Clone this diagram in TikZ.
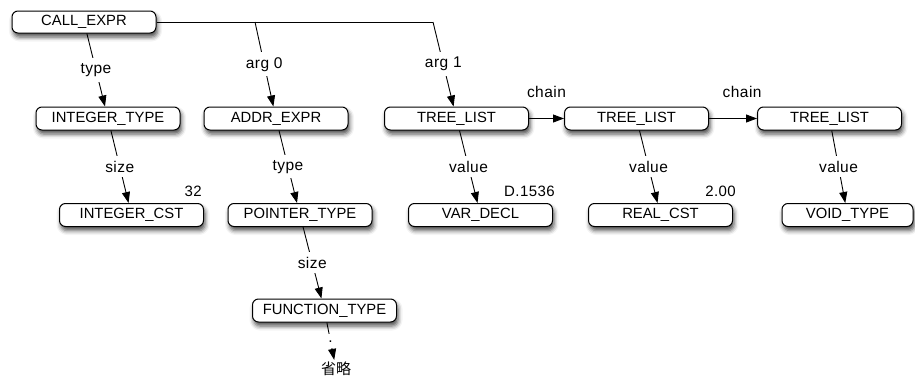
\documentclass[tikz,border=0pt]{standalone}
\usepackage{fontspec}
\setmainfont{Liberation Sans}
\newfontfamily\lblfont[LetterSpace=3]{Liberation Sans}
\newfontfamily\cjkfont{Noto Sans CJK JP}
\usetikzlibrary{arrows.meta,shadows.blur}
\begin{document}
\begin{tikzpicture}[x=1pt,y=-1pt,
  treenode/.style={draw, line width=1pt, rounded corners=6pt, fill=white,
    minimum width=144pt, minimum height=23pt, inner sep=0pt,
    font=\fontsize{14.8}{17}\selectfont,
    blur shadow={shadow xshift=1.5pt, shadow yshift=-4pt,
      shadow blur radius=4.5pt, shadow opacity=70}},
  edge/.style={line width=0.9pt, -{Triangle[length=11pt,width=8pt]}},
  lab/.style={fill=white, inner sep=5pt, font=\lblfont\fontsize{15.5}{18}\selectfont},
  chainlab/.style={inner sep=0pt, anchor=base, yshift=21pt,
    font=\lblfont\fontsize{15.5}{18}\selectfont},
  vallab/.style={inner sep=0pt, anchor=base east,
    font=\lblfont\fontsize{15}{18}\selectfont}]
\useasboundingbox (0,0) rectangle (915,380);

% tree nodes
\node[treenode, minimum height=22pt] (call) at (84,22) {CALL\_EXPR};
\node[treenode] (itype) at (108,118.5) {INTEGER\_TYPE};
\node[treenode] (addr)  at (276,118.5) {ADDR\_EXPR};
\node[treenode] (tl1)   at (456.5,118.5) {TREE\_LIST};
\node[treenode] (tl2)   at (636.5,118.5) {TREE\_LIST};
\node[treenode] (tl3)   at (829.5,118.5) {TREE\_LIST};
\node[treenode] (icst)  at (131.5,215) {INTEGER\_CST};
\node[treenode] (ptr)   at (300,215) {POINTER\_TYPE};
\node[treenode] (var)   at (480.5,215) {VAR\_DECL};
\node[treenode] (real)  at (660.5,215) {REAL\_CST};
\node[treenode, minimum width=131pt] (void) at (847.5,215) {VOID\_TYPE};
\node[treenode] (func)  at (324.5,310.5) {FUNCTION\_TYPE};
\node[font=\cjkfont\fontsize{15}{18}\selectfont, inner sep=2pt] (omit) at (336,369) {省略};

% constant values
\node[vallab] (v32)  at ([xshift=-2pt,yshift=6.5pt]icst.north east) {32};
\node[vallab] (vdec) at ([xshift=2pt,yshift=6.5pt]var.north east) {D.1536};
\node[vallab] (vreal) at ([xshift=3pt,yshift=6.5pt]real.north east) {2.00};

% branch points on the argument bus
\coordinate (j0) at (255,22);
\coordinate (j1) at (433,22);

% edges
\draw[edge] (call) -- node[lab] {type} (itype);
\draw[line width=0.9pt] (call.east) -- (j1);
\draw[edge] (j0) -- node[lab] {arg 0} (addr);
\draw[edge] (j1) -- node[lab] {arg 1} (tl1);
\draw[edge] (itype) -- node[lab] {size} (icst);
\draw[edge] (addr) -- node[lab] {type} (ptr);
\draw[edge] (ptr) -- node[lab] {size} (func);
\draw[edge] (func) -- node[lab, inner sep=6pt] {.} (omit);
\draw[edge] (tl1) -- node[lab] {value} (var);
\draw[edge] (tl2) -- node[lab] {value} (real);
\draw[edge] (tl3) -- node[lab] {value} (void);
\draw[edge] (tl1) -- node[chainlab, pos=0.5] {chain} (tl2);
\draw[edge] (tl2) -- node[chainlab, pos=0.69] {chain} (tl3);
\end{tikzpicture}
\end{document}
